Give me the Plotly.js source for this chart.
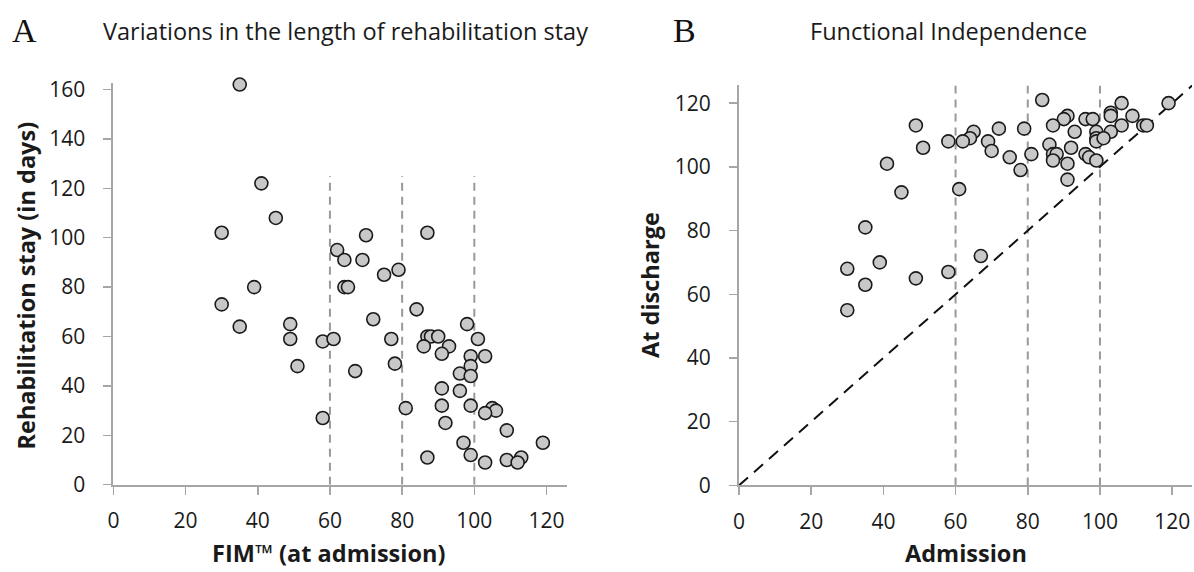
<!DOCTYPE html>
<html>
<head>
<meta charset="utf-8">
<script src="https://cdn.plot.ly/plotly-3.0.1.min.js"></script>
<style>html,body{margin:0;padding:0;background:#fff;}#chart{width:1194px;height:572px;}</style>
</head>
<body>
<div id="chart"></div>
<script>
// Panel A: FIM at admission vs rehabilitation stay (days)
const stayFim = [35,41,45,30,62,64,70,87,69,75,79,64,65,84,72,98,58,61,77,87,88,90,101,86,93,91,99,103,51,67,78,99,96,99,91,96,58,81,91,99,105,106,103,92,109,97,119,87,99,103,109,113,112,30,39,35,49,49];
const stayDays = [162,122,108,102,95,91,101,102,91,85,87,80,80,71,67,65,58,59,59,60,60,60,59,56,56,53,52,52,48,46,49,48,45,44,39,38,27,31,32,32,31,30,29,25,22,17,17,11,12,9,10,11,9,73,80,64,65,59];

// Panel B: FIM at admission vs FIM at discharge
const admission = [84,106,119,103,103,109,91,90,96,98,49,87,106,112,113,103,72,79,65,64,93,99,58,62,69,99,99,101,86,51,70,92,87,88,81,75,96,97,99,87,91,41,78,91,45,61,35,67,39,30,58,49,35,30];
const discharge = [121,120,120,117,116,116,116,115,115,115,113,113,113,113,113,111,112,112,111,109,111,111,108,108,108,109,108,109,107,106,105,106,104,104,104,103,104,103,102,102,101,101,99,96,92,93,81,72,70,68,67,65,63,55];

const xTicks = [0,20,40,60,80,100,120];
const yTicksA = [0,20,40,60,80,100,120,140,160];
const yTicksB = [0,20,40,60,80,100,120];
const cutoffs = [60,80,100];
const identity = [0,125.7];

const rangeAx = [0,125.6], rangeAy = [0,162.5];
const rangeBx = [0,125.5], rangeBy = [0,125.7];

const W = 1194, H = 572;
const tickFont = {family:'Open Sans, sans-serif', size:21, color:'#1a1a1a'};
const axisCommon = {
  showgrid:false, zeroline:false, showline:true, linecolor:'#a6a6a6', linewidth:2,
  ticks:'outside', ticklen:8, tickwidth:1.5, tickcolor:'#a6a6a6',
  tickfont:tickFont, tickmode:'array', fixedrange:true
};
const marker = {size:13, color:'#c8c8c8', line:{color:'#1a1a1a', width:1.6}};

const traces = [
  {type:'scatter', mode:'markers', x:stayFim, y:stayDays, xaxis:'x', yaxis:'y', marker:marker, hoverinfo:'skip', cliponaxis:false},
  {type:'scatter', mode:'markers', x:admission, y:discharge, xaxis:'x2', yaxis:'y2', marker:marker, hoverinfo:'skip', cliponaxis:false}
];

const shapes = [];
cutoffs.forEach(c => {
  shapes.push({type:'line', xref:'x', yref:'y', x0:c, x1:c, y0:0, y1:125, line:{color:'#999999', width:2, dash:'8px,6px'}, layer:'below'});
  shapes.push({type:'line', xref:'x2', yref:'y2', x0:c, x1:c, y0:0, y1:125.5, line:{color:'#999999', width:2, dash:'8px,6px'}, layer:'below'});
});
shapes.push({type:'line', xref:'x2', yref:'y2', x0:identity[0], y0:identity[0], x1:identity[1], y1:identity[1], line:{color:'#111111', width:2, dash:'12px,8px'}, layer:'below'});

const titleFont = {family:'Open Sans, sans-serif', size:23.5, color:'#1a1a1a'};
const boldFont = {family:'Open Sans, sans-serif', size:23.5, color:'#1a1a1a'};
const letterFont = {family:'Liberation Serif, serif', size:34, color:'#111'};
const annotations = [
  {text:'A', x:24.5, y:30, font:letterFont},
  {text:'Variations in the length of rehabilitation stay', x:345.5, y:31, font:titleFont},
  {text:'B', x:684, y:30, font:letterFont},
  {text:'Functional Independence', x:948, y:31, font:titleFont},
  {text:'<b>FIM™ (at admission)</b>', x:328, y:553, font:boldFont},
  {text:'<b>Admission</b>', x:966, y:553, font:boldFont},
  {text:'<b>Rehabilitation stay (in days)</b>', x:25, y:285.5, textangle:-90, font:boldFont},
  {text:'<b>At discharge</b>', x:650, y:285, textangle:-90, font:boldFont}
].map(a => Object.assign(a, {xref:'paper', yref:'paper', showarrow:false, x:a.x/W, y:1 - a.y/H, xanchor:'center', yanchor:'middle'}));

const layout = {
  width:W, height:H, margin:{l:0,r:0,t:0,b:0}, paper_bgcolor:'#fff', plot_bgcolor:'rgba(0,0,0,0)',
  showlegend:false,
  xaxis: Object.assign({}, axisCommon, {domain:[113.4/W, 566.7/W], range:rangeAx, tickvals:xTicks, anchor:'y', ticklabelstandoff:8}),
  yaxis: Object.assign({}, axisCommon, {domain:[1-484.7/H, 1-(484.7-162.5*2.47)/H], range:rangeAy, tickvals:yTicksA, anchor:'x', ticklabelstandoff:14}),
  xaxis2: Object.assign({}, axisCommon, {domain:[739/W, 1192/W], range:rangeBx, tickvals:xTicks, anchor:'y2', ticklabelstandoff:8}),
  yaxis2: Object.assign({}, axisCommon, {domain:[1-485.4/H, 1-85/H], range:rangeBy, tickvals:yTicksB, anchor:'x2', ticklabelstandoff:14}),
  shapes:shapes, annotations:annotations
};

Plotly.newPlot('chart', traces, layout, {displayModeBar:false, staticPlot:true});
</script>
</body>
</html>
